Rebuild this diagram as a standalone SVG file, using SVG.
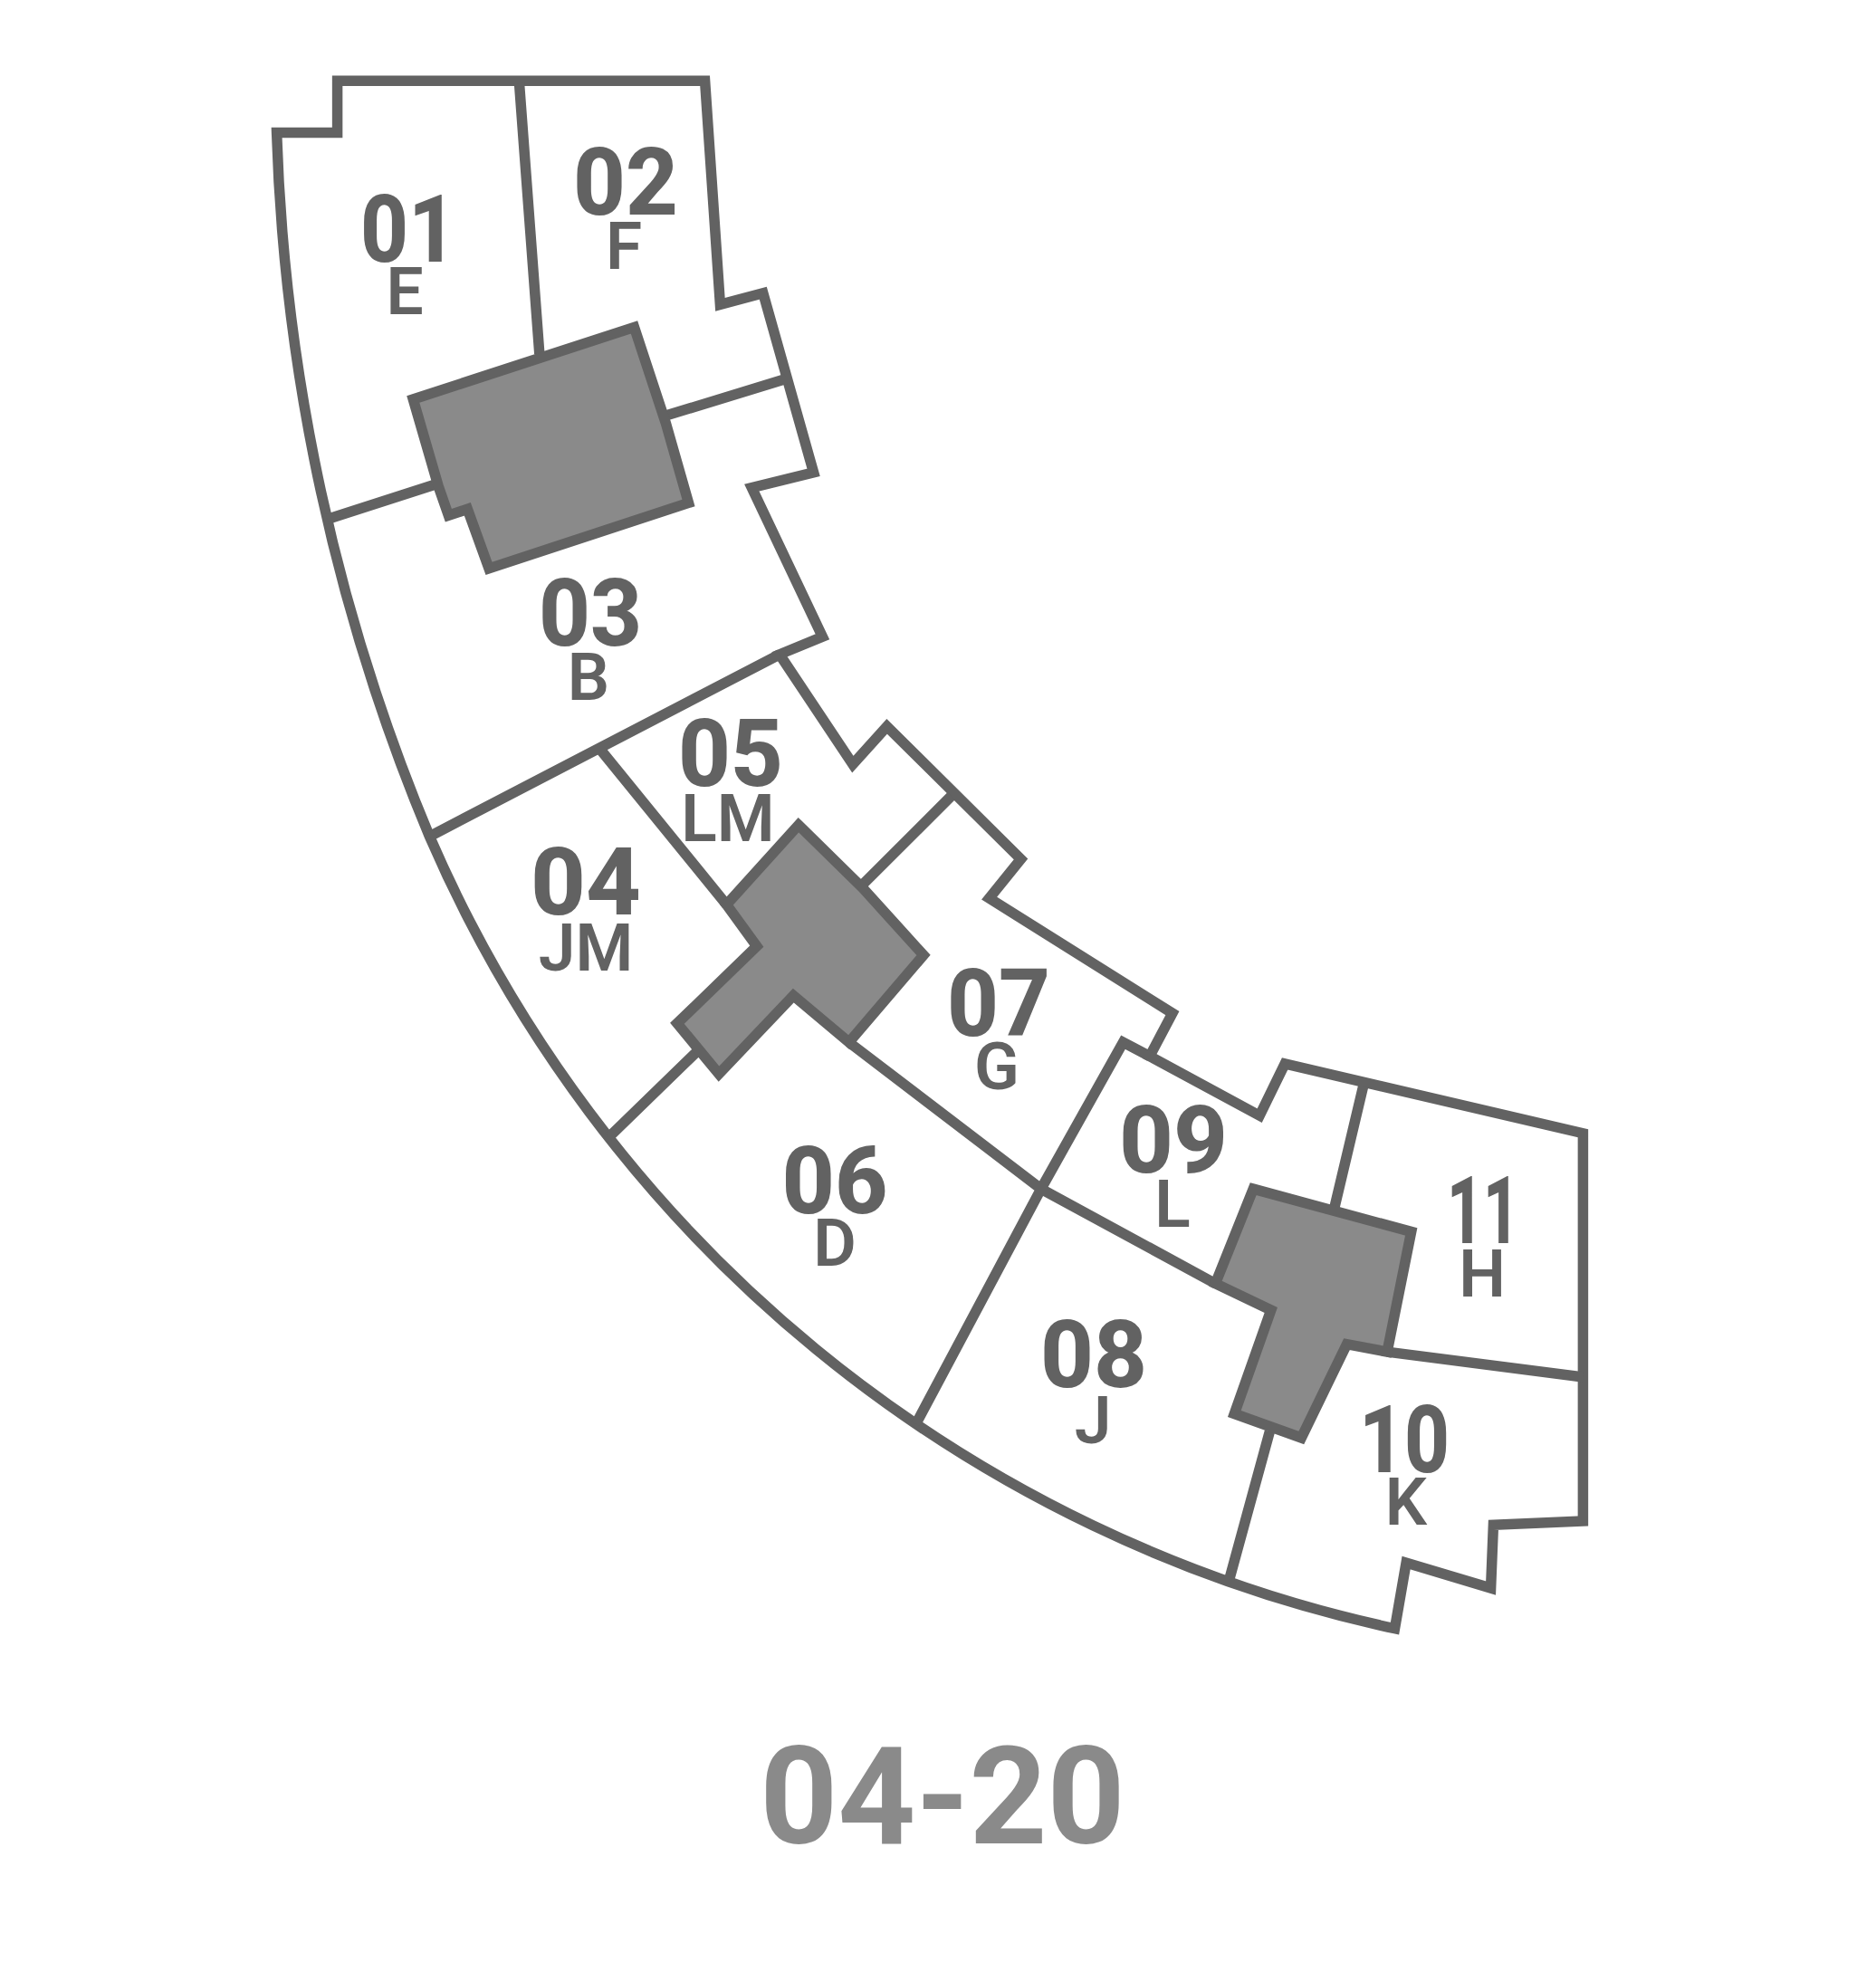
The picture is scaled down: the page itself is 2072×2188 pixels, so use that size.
<svg xmlns="http://www.w3.org/2000/svg" width="2072" height="2188" viewBox="0 0 2072 2188">
<style>
.w{fill:none;stroke:#626262;stroke-width:11.5;stroke-linejoin:miter;stroke-miterlimit:8}
.c{fill:#8a8a8a;stroke:#626262;stroke-width:11.5;stroke-linejoin:miter;stroke-miterlimit:8}
.n{font-family:Roboto,"Liberation Sans",sans-serif;font-weight:800;font-size:104px;fill:#626262;text-anchor:middle}
.l{font-family:Roboto,"Liberation Sans",sans-serif;font-weight:600;font-size:73px;fill:#626262;text-anchor:middle}
.t{font-family:Roboto,"Liberation Sans",sans-serif;font-weight:700;font-size:150px;fill:#8a8a8a;text-anchor:middle}
</style>
<rect width="2072" height="2188" fill="#fff"/>
<g id="connectors">
<path id="outline" class="w" d="M305.6 146.5A2194 2194 0 0 0 474.4 923.8A1507 1507 0 0 0 1540.5 1798.7L1553.1 1726.1 1646.6 1754 1649.4 1684.3 1748.4 1680.1V1251.7L1419.1 1174.9 1391.2 1232.2 1269.8 1166.6 1294.9 1119.1 1092.6 992.1 1127.5 948.9 979.6 802.4 941.9 844.2 861 722.8 908.4 703.3 830.3 538.6 898.6 521.9 842.8 323.7 795.4 336.3 778.6 89.3H372.6V146.5Z"/>
<path id="walls" class="w" d="M573.5 92L595.8 390.7M735.4 459.1L867.9 418.6M361.4 573.5L478.6 535.8M474.4 923.8L861 722.8M662.8 827.5L802.4 999.1M953 976.8L1050.7 879.1M672.6 1255.9L771.7 1159.6M937.7 1151.2L1149.8 1313.1M1149.8 1313.1L1011.7 1572.6M1149.8 1313.1L1342.4 1417.7M1269.8 1166.6L1240.5 1151.2 1149.8 1313.1M1505.6 1200L1473.5 1335.4M1532.1 1493.1L1748.4 1521M1402.4 1581L1357.8 1744.3"/>
</g>
<g id="core-1"><path class="c" d="M456.3 441L700.5 361.4 735.4 467.5 760.5 555.4 540 627.9 516.3 562.3 495.4 569.3 484.2 537.2Z"/></g>
<g id="core-2"><path class="c" d="M881.9 911.2L953 981 1020 1054.9 937.7 1151.2 876.3 1099.6 794 1186.1 747.9 1130.3 835.8 1045.2 802.4 999.1Z"/></g>
<g id="core-3"><path class="c" d="M1384.2 1313.1L1558.7 1360.5 1532.1 1493.1 1487.5 1484.7 1437.3 1588 1363.3 1561.5 1403.8 1447 1342.4 1417.7Z"/></g>
<g id="unit-01"><text class="n" x="451" y="289" textLength="106" lengthAdjust="spacingAndGlyphs">01</text><text class="l" x="447" y="347">E</text></g>
<g id="unit-02"><text class="n" x="691" y="237" textLength="116" lengthAdjust="spacingAndGlyphs">02</text><text class="l" x="689" y="297">F</text></g>
<g id="unit-03"><text class="n" x="652" y="713" textLength="114" lengthAdjust="spacingAndGlyphs">03</text><text class="l" x="650" y="773">B</text></g>
<g id="unit-04"><text class="n" x="647" y="1010" textLength="122" lengthAdjust="spacingAndGlyphs">04</text><text class="l" x="647" y="1072">JM</text></g>
<g id="unit-05"><text class="n" x="807" y="868" textLength="116" lengthAdjust="spacingAndGlyphs">05</text><text class="l" x="804" y="929">LM</text></g>
<g id="unit-06"><text class="n" x="922" y="1340" textLength="117" lengthAdjust="spacingAndGlyphs">06</text><text class="l" x="922" y="1398">D</text></g>
<g id="unit-07"><text class="n" x="1103" y="1144" textLength="114" lengthAdjust="spacingAndGlyphs">07</text><text class="l" x="1101" y="1203">G</text></g>
<g id="unit-08"><text class="n" x="1208" y="1532" textLength="118" lengthAdjust="spacingAndGlyphs">08</text><text class="l" x="1207" y="1594">J</text></g>
<g id="unit-09"><text class="n" x="1296" y="1295" textLength="120" lengthAdjust="spacingAndGlyphs">09</text><text class="l" x="1295" y="1355">L</text></g>
<g id="unit-10"><text class="n" x="1551" y="1626" textLength="100" lengthAdjust="spacingAndGlyphs">10</text><text class="l" x="1553" y="1684">K</text></g>
<g id="unit-11"><text class="n" x="1638" y="1373" textLength="80" lengthAdjust="spacingAndGlyphs">11</text><text class="l" x="1637" y="1432">H</text></g>
<g id="title"><text class="t" x="1041" y="2036">04-20</text></g>
</svg>
